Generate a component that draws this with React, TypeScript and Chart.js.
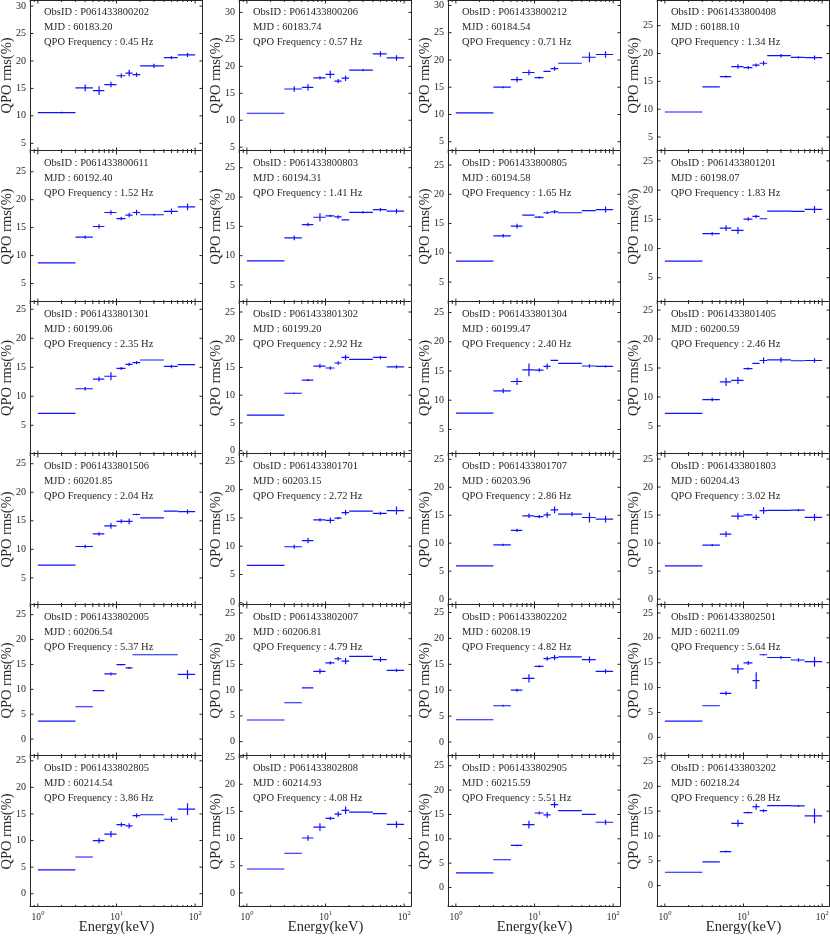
import React, { useEffect, useRef } from 'react';
import { Chart } from 'chart.js/auto';

// energy bins (keV)
const ENERGY_LO = [1, 3, 5, 7, 10, 13, 16, 20, 40, 60];
const ENERGY_HI = [3, 5, 7, 10, 13, 16, 20, 40, 60, 100];
const ENERGY_MID = [2, 4, 6, 8.5, 11.5, 14.5, 18, 30, 50, 80];

const OBS_IDS = [
    'P061433800202', 'P061433800206', 'P061433800212', 'P061433800408',
    'P061433800611', 'P061433800803', 'P061433800805', 'P061433801201',
    'P061433801301', 'P061433801302', 'P061433801304', 'P061433801405',
    'P061433801506', 'P061433801701', 'P061433801707', 'P061433801803',
    'P061433802005', 'P061433802007', 'P061433802202', 'P061433802501',
    'P061433802805', 'P061433802808', 'P061433802905', 'P061433803202',
];
const MJDS = [
    '60183.20', '60183.74', '60184.54', '60188.10',
    '60192.40', '60194.31', '60194.58', '60198.07',
    '60199.06', '60199.20', '60199.47', '60200.59',
    '60201.85', '60203.15', '60203.96', '60204.43',
    '60206.54', '60206.81', '60208.19', '60211.09',
    '60214.54', '60214.93', '60215.59', '60218.24',
];
const QPO_FREQS = [
    '0.45', '0.57', '0.71', '1.34',
    '1.52', '1.41', '1.65', '1.83',
    '2.35', '2.92', '2.40', '2.46',
    '2.04', '2.72', '2.86', '3.02',
    '5.37', '4.79', '4.82', '5.64',
    '3.86', '4.08', '5.51', '6.28',
];

// QPO rms (%) per energy bin, one row per observation
const RMS = [
    [10.6, 15.1, 14.6, 15.7, 17.3, 17.8, 17.5, 19.1, 20.6, 21.1],
    [11.3, 15.8, 16.1, 17.85, 18.5, 17.25, 17.8, 19.3, 22.3, 21.55],
    [10.3, 15.0, 16.4, 17.7, 16.75, 17.9, 18.4, 19.4, 20.5, 21.0],
    [9.5, 14.0, 15.85, 17.65, 17.45, 17.9, 18.25, 19.6, 19.3, 19.25],
    [8.7, 13.3, 15.2, 17.7, 16.6, 17.25, 17.7, 17.3, 17.9, 18.7],
    [9.1, 13.05, 15.3, 16.55, 16.8, 16.6, 16.1, 17.4, 17.85, 17.6],
    [8.6, 12.9, 14.55, 16.45, 16.1, 16.85, 17.0, 16.85, 17.2, 17.4],
    [7.85, 12.55, 13.5, 13.1, 15.05, 15.5, 15.1, 16.4, 16.35, 16.7],
    [7.05, 11.3, 12.95, 13.45, 14.8, 15.5, 15.8, 16.25, 15.15, 15.45],
    [6.4, 10.35, 12.7, 15.25, 14.9, 15.8, 16.8, 16.45, 16.8, 15.1],
    [7.8, 11.6, 13.2, 15.2, 15.15, 15.8, 16.8, 16.3, 15.85, 15.8],
    [7.15, 9.55, 12.6, 12.85, 14.9, 15.8, 16.3, 16.4, 16.25, 16.3],
    [7.25, 10.5, 12.7, 14.1, 14.9, 14.9, 16.1, 15.5, 16.7, 16.6],
    [6.6, 9.9, 11.0, 14.65, 14.55, 14.95, 15.95, 16.2, 15.8, 16.3],
    [5.95, 9.7, 12.3, 14.9, 14.75, 15.05, 15.95, 15.2, 14.6, 14.3],
    [5.95, 9.65, 11.6, 14.8, 15.05, 14.6, 15.8, 15.85, 15.9, 14.6],
    [3.6, 6.5, 9.75, 13.1, 14.95, 14.3, 16.95, 16.95, 16.95, 13.0],
    [4.2, 7.55, 10.45, 13.65, 15.3, 16.1, 15.65, 16.55, 15.95, 13.85],
    [4.3, 7.0, 10.0, 12.3, 14.6, 16.1, 16.3, 16.45, 15.9, 13.65],
    [3.25, 6.35, 8.85, 13.75, 14.95, 11.4, 16.6, 16.05, 15.55, 15.2],
    [4.5, 6.9, 10.0, 11.2, 13.0, 12.75, 14.7, 14.85, 14.0, 15.9],
    [4.4, 7.3, 10.1, 12.1, 13.7, 14.5, 15.2, 14.85, 14.6, 12.6],
    [3.0, 5.7, 8.65, 12.9, 15.3, 14.9, 17.0, 15.8, 15.0, 13.4],
    [2.7, 4.8, 6.85, 12.55, 14.7, 15.9, 15.1, 16.1, 16.05, 14.05],
];
const RMS_ERR = [
    [0.15, 0.6, 0.8, 0.5, 0.4, 0.6, 0.4, 0.4, 0.3, 0.4],
    [0.1, 0.5, 0.6, 0.3, 0.7, 0.4, 0.5, 0.2, 0.5, 0.5],
    [0.1, 0.2, 0.5, 0.5, 0.2, 0.1, 0.4, 0.05, 0.9, 0.6],
    [0.1, 0.1, 0.2, 0.4, 0.3, 0.3, 0.4, 0.3, 0.2, 0.4],
    [0.1, 0.3, 0.4, 0.4, 0.3, 0.4, 0.5, 0.2, 0.5, 0.6],
    [0.1, 0.4, 0.3, 0.7, 0.2, 0.3, 0.1, 0.2, 0.3, 0.4],
    [0.1, 0.3, 0.4, 0.1, 0.15, 0.2, 0.3, 0.1, 0.1, 0.5],
    [0.1, 0.3, 0.5, 0.6, 0.3, 0.3, 0.1, 0.1, 0.1, 0.6],
    [0.05, 0.3, 0.4, 0.7, 0.25, 0.3, 0.3, 0.1, 0.3, 0.1],
    [0.1, 0.15, 0.2, 0.4, 0.3, 0.3, 0.5, 0.1, 0.3, 0.3],
    [0.1, 0.4, 0.6, 1.1, 0.3, 0.5, 0.1, 0.1, 0.3, 0.2],
    [0.1, 0.3, 0.7, 0.6, 0.2, 0.1, 0.5, 0.4, 0.05, 0.4],
    [0.05, 0.3, 0.3, 0.5, 0.35, 0.5, 0.15, 0.05, 0.05, 0.4],
    [0.1, 0.35, 0.5, 0.3, 0.5, 0.2, 0.5, 0.05, 0.3, 0.7],
    [0.1, 0.2, 0.3, 0.4, 0.3, 0.5, 0.6, 0.4, 0.9, 0.6],
    [0.1, 0.2, 0.5, 0.6, 0.15, 0.5, 0.6, 0.05, 0.2, 0.6],
    [0.05, 0.05, 0.1, 0.3, 0.15, 0.2, 0.1, 0.05, 0.05, 0.9],
    [0.05, 0.1, 0.05, 0.5, 0.3, 0.35, 0.6, 0.1, 0.5, 0.3],
    [0.05, 0.2, 0.3, 0.8, 0.2, 0.4, 0.5, 0.05, 0.6, 0.4],
    [0.1, 0.1, 0.4, 0.9, 0.4, 1.7, 0.15, 0.3, 0.35, 1.0],
    [0.05, 0.1, 0.5, 0.6, 0.4, 0.5, 0.4, 0.1, 0.5, 1.1],
    [0.05, 0.1, 0.5, 0.7, 0.3, 0.5, 0.7, 0.05, 0.1, 0.6],
    [0.05, 0.05, 0.2, 0.8, 0.3, 0.6, 0.6, 0.05, 0.1, 0.5],
    [0.05, 0.1, 0.2, 0.7, 0.2, 0.6, 0.3, 0.05, 0.2, 1.5],
];

const Y_TICKS = [0, 5, 10, 15, 20, 25, 30];
const X_MAJOR = [1, 10, 100];
const X_MAJOR_EXP = ['0', '1', '2'];
const X_MINOR = [0.8, 0.9, 2, 3, 4, 5, 6, 7, 8, 9, 20, 30, 40, 50, 60, 70, 80, 90];

const FONT = "'Liberation Serif', 'Times New Roman', serif";
const INK = '#262626';
const BLUE = '#1010ff';
const ROW_TOPS = [0, 151, 302, 454, 605, 756, 907];
const COL_STEP = 209;
const CANVAS_W = 203;
const AXIS_W = 30;
const BOTTOM_H = 29;
const OVERLAP = 7; // transparent margin so edge tick labels are not clipped

const panelPlugin = {
    id: 'qpoPanel',
    afterDatasetsDraw(chart: any, _args: any, opts: any) {
        const { ctx, chartArea: a, scales } = chart;
        const xs = scales.x;
        const ys = scales.y;
        const idx = opts.idx as number;
        const row = Math.floor(idx / 4);
        ctx.save();

        // error bars
        const ds = chart.data.datasets[0];
        const meta = chart.getDatasetMeta(0);
        ctx.strokeStyle = BLUE;
        ctx.lineWidth = 1.2;
        ds.data.forEach((d: any, i: number) => {
            const el = meta.data[i];
            const x0 = xs.getPixelForValue(d.xlo);
            const x1 = xs.getPixelForValue(d.xhi);
            const y0 = ys.getPixelForValue(d.y - d.err);
            const y1 = ys.getPixelForValue(d.y + d.err);
            ctx.beginPath();
            ctx.moveTo(x0, el.y);
            ctx.lineTo(x1, el.y);
            ctx.moveTo(el.x, y0);
            ctx.lineTo(el.x, y1);
            ctx.stroke();
        });

        // frame
        ctx.strokeStyle = INK;
        ctx.lineWidth = 1;
        ctx.beginPath();
        ctx.moveTo(a.left + 0.5, a.top);
        ctx.lineTo(a.left + 0.5, a.bottom - 0.5);
        ctx.lineTo(a.right - 0.5, a.bottom - 0.5);
        ctx.lineTo(a.right - 0.5, a.top);
        if (row === 0) {
            ctx.moveTo(a.left, a.top + 0.5);
            ctx.lineTo(a.right, a.top + 0.5);
        }
        ctx.stroke();

        // inward ticks
        ctx.beginPath();
        ys.ticks.forEach((t: any) => {
            const py = ys.getPixelForValue(t.value);
            ctx.moveTo(a.left, py);
            ctx.lineTo(a.left + 3.5, py);
            ctx.moveTo(a.right, py);
            ctx.lineTo(a.right - 3.5, py);
        });
        const xTick = (v: number, len: number) => {
            const px = xs.getPixelForValue(v);
            ctx.moveTo(px, a.bottom);
            ctx.lineTo(px, a.bottom - len);
            ctx.moveTo(px, a.top);
            ctx.lineTo(px, a.top + len);
        };
        X_MAJOR.forEach(v => xTick(v, 3.5));
        X_MINOR.forEach(v => xTick(v, 2));
        ctx.stroke();

        // annotation text
        ctx.fillStyle = INK;
        ctx.font = `10.5px ${FONT}`;
        ctx.textAlign = 'left';
        ctx.textBaseline = 'middle';
        const tx = a.left + 14;
        ctx.fillText(`ObsID : ${OBS_IDS[idx]}`, tx, a.top + 12.7);
        ctx.fillText(`MJD : ${MJDS[idx]}`, tx, a.top + 27.6);
        ctx.fillText(`QPO Frequency : ${QPO_FREQS[idx]} Hz`, tx, a.top + 42.5);

        // energy axis labels on the bottom row
        if (row === 5) {
            X_MAJOR.forEach((v, i) => {
                const px = xs.getPixelForValue(v);
                ctx.font = `9.5px ${FONT}`;
                const wBase = ctx.measureText('10').width;
                ctx.font = `6.5px ${FONT}`;
                const wExp = ctx.measureText(X_MAJOR_EXP[i]).width;
                const start = px - (wBase + wExp) / 2;
                const cy = a.bottom + 10;
                ctx.font = `9.5px ${FONT}`;
                ctx.fillText('10', start, cy);
                ctx.font = `6.5px ${FONT}`;
                ctx.fillText(X_MAJOR_EXP[i], start + wBase + 0.3, cy - 3.5);
            });
            ctx.font = `14.5px ${FONT}`;
            ctx.textAlign = 'center';
            ctx.fillText('Energy(keV)', (a.left + a.right) / 2, a.bottom + 20.5);
        }
        ctx.restore();
    },
};

const Panel: React.FC<{ idx: number }> = ({ idx }) => {
    const canvasRef = useRef<HTMLCanvasElement>(null);
    const row = Math.floor(idx / 4);
    const col = idx % 4;
    const isBottom = row === 5;
    const padTop = row > 0 ? OVERLAP : 0;
    const padBottom = isBottom ? BOTTOM_H : OVERLAP;
    const top = ROW_TOPS[row] - padTop;
    const height = ROW_TOPS[row + 1] - ROW_TOPS[row] + padTop + padBottom;

    useEffect(() => {
        if (!canvasRef.current) return;
        const vals = RMS[idx];
        const errs = RMS_ERR[idx];
        const points = ENERGY_MID.map((e, i) => ({
            x: e,
            y: vals[i],
            xlo: ENERGY_LO[i],
            xhi: ENERGY_HI[i],
            err: errs[i],
        }));
        const yMin = Math.min(...vals) - 7;
        const yMax = Math.max(...vals) + 10;

        const chart = new Chart(canvasRef.current, {
            type: 'scatter',
            data: {
                datasets: [{
                    data: points,
                    pointRadius: 0,
                    pointHoverRadius: 0,
                    showLine: false,
                }],
            },
            options: {
                animation: false,
                responsive: false,
                events: [],
                layout: {
                    autoPadding: false,
                    padding: { left: 0, right: 0, top: padTop, bottom: padBottom },
                },
                scales: {
                    x: {
                        type: 'logarithmic',
                        min: Math.pow(10, -0.1),
                        max: Math.pow(10, 2.1),
                        display: false,
                    },
                    y: {
                        type: 'linear',
                        min: yMin,
                        max: yMax,
                        afterFit: (s: any) => {
                            s.width = AXIS_W;
                            s.paddingTop = 0;
                            s.paddingBottom = 0;
                        },
                        afterBuildTicks: (s: any) => {
                            s.ticks = Y_TICKS.filter(v => v >= s.min && v <= s.max).map(v => ({ value: v }));
                        },
                        grid: { display: false, drawTicks: false },
                        border: { display: false },
                        ticks: {
                            color: INK,
                            padding: 4,
                            font: { family: FONT, size: 10 },
                        },
                        title: {
                            display: true,
                            text: 'QPO rms(%)',
                            color: INK,
                            padding: 0,
                            font: { family: FONT, size: 14.5, lineHeight: 1 },
                        },
                    },
                },
                plugins: {
                    legend: { display: false },
                    tooltip: { enabled: false },
                    // @ts-ignore
                    qpoPanel: { idx },
                },
            },
            plugins: [panelPlugin],
        } as any);

        return () => {
            chart.destroy();
        };
    }, [idx]);

    return (
        <canvas
            ref={canvasRef}
            width={CANVAS_W}
            height={height}
            style={{ position: 'absolute', left: col * COL_STEP, top, width: CANVAS_W, height }}
        />
    );
};

const App: React.FC = () => {
    return (
        <div style={{ position: 'absolute', left: 0, top: 0, width: 830, height: 936, background: '#fff', overflow: 'hidden' }}>
            {OBS_IDS.map((_, i) => <Panel key={i} idx={i} />)}
        </div>
    );
};

export default App;
